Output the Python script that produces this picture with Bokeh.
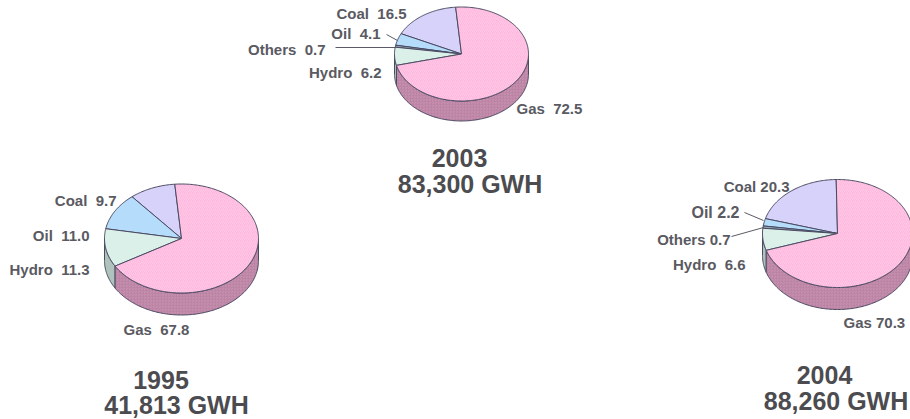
import numpy as np
from bokeh.plotting import figure
from bokeh.embed import file_html
from bokeh.resources import INLINE
from bokeh.models import Range1d
from bokeh.core.properties import value

W, H = 910, 419

years = ["1995", "2003", "2004"]
totals = ["41,813 GWH", "83,300 GWH", "88,260 GWH"]
gas = [67.8, 72.5, 70.3]
hydro = [11.3, 6.2, 6.6]
others = [None, 0.7, 0.7]
oil = [11.0, 4.1, 2.2]
coal = [9.7, 16.5, 20.3]

start_deg = [95, 95, 91]
centers = [(181, 238), (461, 53.5), (837, 233)]
radii = [(77, 54.5), (67, 47), (75, 54)]
depths = [22, 20, 22]

TOP = {"Gas": "#FFB8DE", "Coal": "#D6D2FA", "Oil": "#B5DDFB", "Others": "#8FA6B5", "Hydro": "#DCF0EA"}
SIDE = {"Gas": "#C88FAE", "Coal": "#A8A4C8", "Oil": "#8FB0C8", "Others": "#708090", "Hydro": "#AFC2BC"}
EDGE = "#4A4A62"
TEXT = "#5A5A62"
TITLE = "#4C4C50"

N = "\u00a0"
labels = [
    [(f"Coal {N}9.7", 116, 200, "right", 15), (f"Oil {N}11.0", 89, 235, "right", 15), (f"Hydro {N}11.3", 89, 269, "right", 15), (f"Gas {N}67.8", 156, 329, "center", 15)],
    [(f"Coal {N}16.5", 406, 12.5, "right", 15), (f"Oil {N}4.1", 380, 33, "right", 15), (f"Others {N}0.7", 325, 49, "right", 15), (f"Hydro {N}6.2", 381, 72, "right", 15), (f"Gas {N}72.5", 516, 108, "left", 15)],
    [("Coal 20.3", 789, 186, "right", 15), ("Oil 2.2", 739, 212, "right", 16), ("Others 0.7", 730, 239, "right", 15), (f"Hydro {N}6.6", 745, 264, "right", 15), ("Gas 70.3", 843, 322, "left", 15)],
]
title_pos = [(160.5, 379, 176, 404), (459, 157, 469.5, 183), (824, 374, 835.5, 400)]
leaders = [
    [],
    [((386, 34), (397, 40)), ((335, 47), (396, 47))],
    [((744, 212), (763, 220)), ((731, 236), (763, 227))],
]

p = figure(width=W, height=H, output_backend="svg", toolbar_location=None,
           x_range=Range1d(0, W), y_range=Range1d(H, 0),
           min_border=0, outline_line_color=None)
p.xaxis.visible = False
p.yaxis.visible = False
p.grid.visible = False
p.background_fill_color = "white"
p.border_fill_color = "white"


def arc(cx, cy, rx, ry, a0, a1, dz=0.0):
    t = np.radians(np.linspace(a0, a1, max(3, int(abs(a1 - a0)) + 2)))
    return cx + rx * np.cos(t), cy - ry * np.sin(t) + dz


for i in range(3):
    cx, cy = centers[i]
    rx, ry = radii[i]
    d = depths[i]
    series = [("Coal", coal[i]), ("Oil", oil[i]), ("Others", others[i]), ("Hydro", hydro[i]), ("Gas", gas[i])]
    series = [s for s in series if s[1] is not None]
    total = sum(v for _, v in series)
    a = start_deg[i]
    spans = []
    for name, v in series:
        b = a + v / total * 360
        spans.append((name, a, b))
        a = b
    for name, a0, b0 in spans:
        lo, hi = max(a0, 180), min(b0, 360)
        if hi > lo:
            x1, y1 = arc(cx, cy, rx, ry, lo, hi)
            x2, y2 = arc(cx, cy, rx, ry, hi, lo, d)
            hatch = dict(hatch_pattern="criss_cross", hatch_color="#B883A2", hatch_scale=3, hatch_weight=0.6) if name == "Gas" else {}
            p.patch(np.r_[x1, x2], np.r_[y1, y2], fill_color=SIDE[name], line_color=EDGE, line_width=1, **hatch)
    for name, a0, b0 in spans:
        x1, y1 = arc(cx, cy, rx, ry, a0, b0)
        hatch = dict(hatch_pattern="right_diagonal_line", hatch_color="#FFCBE8", hatch_scale=4, hatch_weight=0.8) if name == "Gas" else {}
        p.patch(np.r_[cx, x1], np.r_[cy, y1], fill_color=TOP[name], line_color=EDGE, line_width=1, **hatch)
    for (x0, y0), (x1, y1) in leaders[i]:
        p.line([x0, x1], [y0, y1], line_color="#5A5A66", line_width=1)
    for txt, x, y, al, sz in labels[i]:
        p.text([x], [y], text=[txt], text_align=al, text_baseline="middle",
               text_font=value("Liberation Sans"), text_font_size=f"{sz}px",
               text_font_style="bold", text_color=TEXT)
    tx, ty, sx, sy = title_pos[i]
    p.text([tx], [ty], text=[years[i]], text_align="center", text_baseline="middle",
           text_font=value("Liberation Sans"), text_font_size="25px",
           text_font_style="bold", text_color=TITLE)
    p.text([sx], [sy], text=[totals[i]], text_align="center", text_baseline="middle",
           text_font=value("Liberation Sans"), text_font_size="25px",
           text_font_style="bold", text_color=TITLE)

open("out.html", "w").write(file_html(p, INLINE))
